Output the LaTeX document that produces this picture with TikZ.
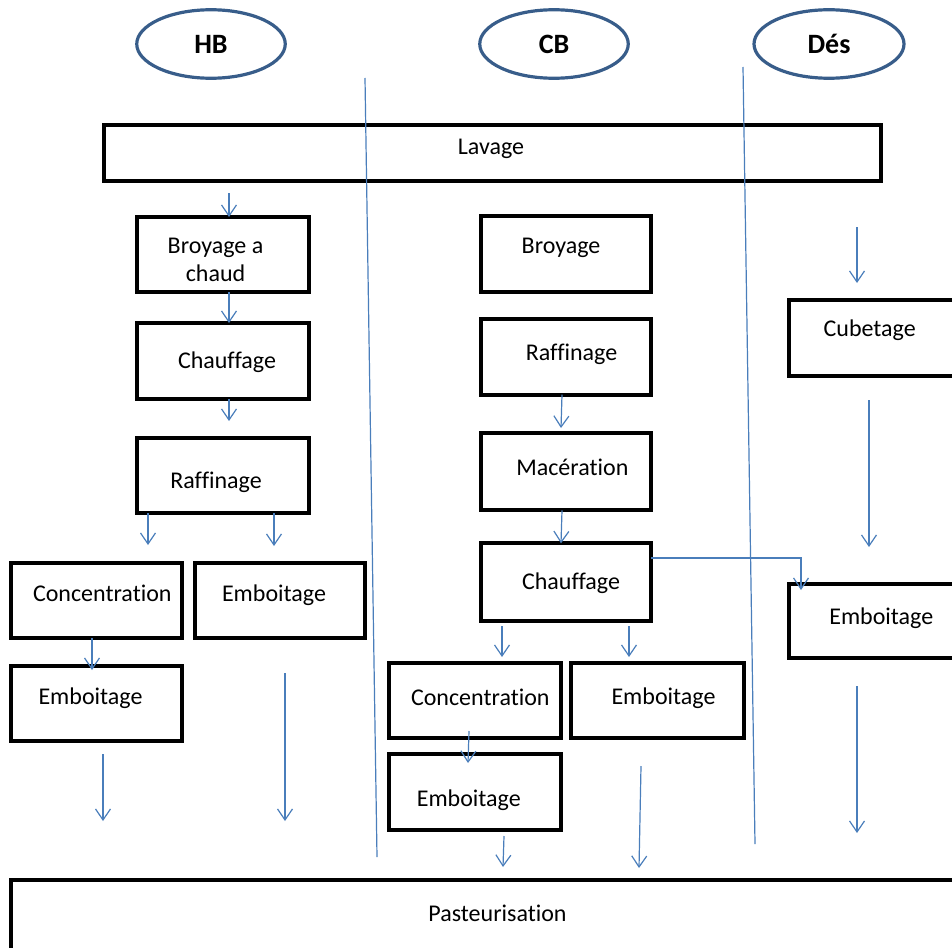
\documentclass[tikz,border=0pt]{standalone}
\usepackage{fontspec}
\setmainfont[Ligatures=NoCommon]{Carlito}
\usetikzlibrary{arrows.meta,shapes.geometric,fit}
\definecolor{elblue}{RGB}{56,93,138}
\definecolor{arblue}{RGB}{74,126,187}
\begin{document}
\begin{tikzpicture}[x=1pt,y=-1pt,
 box/.style={draw=black, line width=4pt, rectangle, inner sep=0pt, outer sep=0pt},
 oval/.style={draw=elblue, line width=3.2pt, ellipse, inner sep=0pt, outer sep=0pt, minimum width=148.5pt, minimum height=68.5pt, font=\fontsize{28}{32}\selectfont\bfseries},
 lbl/.style={anchor=base, inner sep=0pt, font=\fontsize{24}{28.5}\selectfont, align=center},
 arr/.style={draw=arblue, line width=1.2pt, -{Straight Barb[length=11pt,width=15pt]}},
 sepline/.style={draw=arblue, line width=1.2pt}]
\useasboundingbox (0,0) rectangle (952,947);
\clip (0,0) rectangle (952,947);

% header ovals
\node[oval] (hb) at (211,44) {HB};
\node[oval] (cb) at (554,44) {CB};
\node[oval, minimum width=150pt] (des) at (829,44) {Dés};

% boxes
\node[box, fit={(104,124.5) (880.5,180.5)}] (lav) {};
\node[box, fit={(137,217) (309,292)}] (hb1) {};
\node[box, fit={(137,323) (309,399)}] (hb2) {};
\node[box, fit={(137,437.7) (309,513)}] (hb3) {};
\node[box, fit={(11.3,563.3) (182,638)}] (hb4) {};
\node[box, fit={(194.7,563.3) (365.3,638)}] (hb5) {};
\node[box, fit={(11.3,666) (182,741.3)}] (hb6) {};

\node[box, fit={(480.7,216.3) (651.3,292)}] (cb1) {};
\node[box, fit={(480.7,319.3) (651.3,394.7)}] (cb2) {};
\node[box, fit={(480.7,433) (651.3,510.3)}] (cb3) {};
\node[box, fit={(480.7,543.3) (651.3,620.7)}] (cb4) {};
\node[box, fit={(389.3,662.7) (560.7,738)}] (cb5) {};
\node[box, fit={(571.3,662.7) (744,738)}] (cb6) {};
\node[box, fit={(389.3,753.7) (560.7,829.7)}] (cb7) {};

\node[box, fit={(789.3,300.3) (975,376.3)}] (ds1) {};
\node[box, fit={(789.3,583.7) (975,658)}] (ds2) {};

\node[box, fit={(11.3,880) (975,975)}] (past) {};

% labels
\node[lbl] (tlav) at (491,154) {Lavage};
\node[lbl] (thb1) at (215.5,281.7) {Broyage a\\chaud};
\node[lbl] (thb2) at (227,368.3) {Chauffage};
\node[lbl] (thb3) at (216,488.3) {Raffinage};
\node[lbl] (thb4) at (102.3,601.7) {Concentration};
\node[lbl] (thb5) at (274,601.7) {Emboitage};
\node[lbl] (thb6) at (90.5,704) {Emboitage};
\node[lbl] (tcb1) at (561,253) {Broyage};
\node[lbl] (tcb2) at (571.5,360) {Raffinage};
\node[lbl] (tcb3) at (572.3,475) {Macération};
\node[lbl] (tcb4) at (571,589.3) {Chauffage};
\node[lbl] (tcb5) at (480.3,705) {Concentration};
\node[lbl] (tcb6) at (663.5,704) {Emboitage};
\node[lbl] (tcb7) at (468.8,806.7) {Emboitage};
\node[lbl] (tds1) at (869.7,336.7) {Cubetage};
\node[lbl] (tds2) at (881.3,624) {Emboitage};
\node[lbl] (tpast) at (497.5,921.7) {Pasteurisation};

% separator lines
\coordinate (s1a) at (365,78);
\coordinate (s1b) at (377,857);
\coordinate (s2a) at (743,67);
\coordinate (s2b) at (755,844);
\draw[sepline] (s1a) -- (s1b);
\draw[sepline] (s2a) -- (s2b);

% HB arrows
\coordinate (h1) at (229,193);
\draw[arr] (h1) -- (h1 |- hb1.north);
\coordinate (h2) at (229,0);
\draw[arr] (h2 |- hb1.south) -- (h2 |- hb2.north);
\coordinate (h3) at (229,421);
\draw[arr] (h2 |- hb2.south) -- (h3);
\coordinate (h4) at (148,545);
\draw[arr] (h4 |- hb3.south) -- (h4);
\coordinate (h5) at (274,546);
\draw[arr] (h5 |- hb3.south) -- (h5);
\coordinate (h6) at (92,670);
\draw[arr] (h6 |- hb4.south) -- (h6);
\coordinate (h7a) at (103,754);
\coordinate (h7b) at (103,821);
\draw[arr] (h7a) -- (h7b);
\coordinate (h8a) at (285,673);
\coordinate (h8b) at (285,821);
\draw[arr] (h8a) -- (h8b);

% CB arrows
\coordinate (c1) at (561,428);
\draw[arr] (562,0 |- cb2.south) -- (c1);
\coordinate (c2) at (561,0);
\draw[arr] (562,0 |- cb3.south) -- (c2 |- cb4.north);
\coordinate (c3a) at (0,558);
\coordinate (c3b) at (801,558);
\coordinate (c3c) at (801,590);
\draw[arr] (cb4.east |- c3a) -- (c3b) -- (c3c);
\coordinate (c4a) at (502,626);
\coordinate (c4b) at (502,657);
\draw[arr] (c4a) -- (c4b);
\coordinate (c5a) at (629,626);
\coordinate (c5b) at (629,657);
\draw[arr] (c5a) -- (c5b);
\coordinate (c6a) at (469,731);
\coordinate (c6b) at (468,763);
\draw[arr] (c6a) -- (c6b);
\coordinate (c7a) at (504,836);
\coordinate (c7b) at (503,867);
\draw[arr] (c7a) -- (c7b);
\coordinate (c8a) at (641,766);
\coordinate (c8b) at (639,868);
\draw[arr] (c8a) -- (c8b);

% Des arrows
\coordinate (d1a) at (857,227);
\coordinate (d1b) at (857,283);
\draw[arr] (d1a) -- (d1b);
\coordinate (d2a) at (869,400);
\coordinate (d2b) at (869,547);
\draw[arr] (d2a) -- (d2b);
\coordinate (d3a) at (857,686);
\coordinate (d3b) at (857,833);
\draw[arr] (d3a) -- (d3b);
\end{tikzpicture}
\end{document}
